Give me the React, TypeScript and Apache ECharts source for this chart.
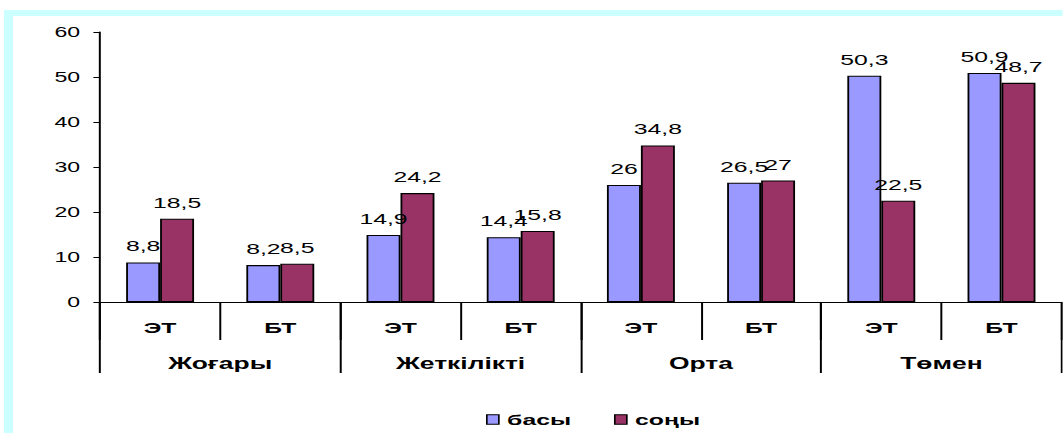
import React, { useEffect, useRef } from "react";
import * as echarts from "echarts";

const categories = ["ЭТ", "БТ", "ЭТ", "БТ", "ЭТ", "БТ", "ЭТ", "БТ"];
const groups = ["Жоғары", "Жеткілікті", "Орта", "Төмен"];
const seriesNames = ["басы", "соңы"];
const basyValues = [8.8, 8.2, 14.9, 14.4, 26, 26.5, 50.3, 50.9];
const sonyValues = [18.5, 8.5, 24.2, 15.8, 34.8, 27, 22.5, 48.7];
const yTicks = { min: 0, max: 60, interval: 10 };

const S = 1.65; // horizontal stretch of the reference picture
const FULL_W = 1063;
const FULL_H = 433;
const W = FULL_W / S;
const FONT = "'Liberation Sans', Arial, sans-serif";

export default function App() {
  const ref = useRef<HTMLDivElement>(null);
  useEffect(() => {
    if (!ref.current) return;
    const chart = echarts.init(ref.current, null, { renderer: "svg" });
    const fmt = (p: any) => String(p.value).replace(".", ",");
    const labelStyle = {
      show: true,
      position: "top",
      distance: 9,
      fontSize: 15,
      color: "#000",
      fontFamily: FONT,
      formatter: fmt,
    };
    chart.setOption({
      animation: false,
      backgroundColor: "#fff",
      textStyle: { fontFamily: FONT },
      graphic: [
        { type: "rect", shape: { x: 4 / S, y: 10, width: W, height: 6 }, style: { fill: "#CCFFFF" } },
        { type: "rect", shape: { x: 4 / S, y: 10, width: 9 / S, height: FULL_H }, style: { fill: "#CCFFFF" } },
      ],
      grid: { left: 100 / S, right: W - 1062 / S, top: 32, bottom: FULL_H - 302, containLabel: false },
      legend: {
        data: seriesNames,
        left: 486 / S,
        top: 412,
        padding: 0,
        itemWidth: 7.3,
        itemHeight: 9.5,
        itemGap: 26,
        icon: "rect",
        itemStyle: { borderColor: "#000", borderWidth: 1 },
        textStyle: { fontSize: 15, fontWeight: "bold", color: "#000", fontFamily: FONT },
      },
      xAxis: [
        {
          type: "category",
          data: categories,
          position: "bottom",
          axisLine: { show: true, lineStyle: { color: "#000", width: 1.2 } },
          axisTick: { show: true, interval: 0, length: 38, lineStyle: { color: "#000", width: 1.2 } },
          axisLabel: { interval: 0, margin: 18, fontSize: 15, fontWeight: "bold", color: "#000", fontFamily: FONT },
          splitLine: { show: false },
        },
        {
          type: "category",
          data: groups,
          position: "bottom",
          axisLine: { show: false },
          axisTick: { show: true, interval: 0, length: 71, lineStyle: { color: "#000", width: 1.2 } },
          axisLabel: { interval: 0, margin: 53, fontSize: 16, fontWeight: "bold", color: "#000", fontFamily: FONT },
          splitLine: { show: false },
        },
      ],
      yAxis: {
        type: "value",
        min: yTicks.min,
        max: yTicks.max,
        interval: yTicks.interval,
        axisLine: { show: true, lineStyle: { color: "#000", width: 1.2 } },
        axisTick: { show: true, length: 4, lineStyle: { color: "#000", width: 1 } },
        axisLabel: { margin: 12, fontSize: 14, color: "#000", fontFamily: FONT },
        splitLine: { show: false },
      },
      series: [
        {
          name: seriesNames[0],
          type: "bar",
          xAxisIndex: 0,
          data: basyValues,
          barGap: "0%",
          barCategoryGap: "43.5%",
          itemStyle: { color: "#9999FF", borderColor: "#000", borderWidth: 1.1 },
          label: labelStyle,
        },
        {
          name: seriesNames[1],
          type: "bar",
          xAxisIndex: 0,
          data: sonyValues,
          barGap: "0%",
          barCategoryGap: "43.5%",
          itemStyle: { color: "#993366", borderColor: "#000", borderWidth: 1.1 },
          label: labelStyle,
        },
      ],
    });
    return () => chart.dispose();
  }, []);
  return (
    <div style={{ position: "fixed", left: 0, top: 0, width: FULL_W, height: FULL_H, overflow: "hidden", background: "#fff" }}>
      <div
        ref={ref}
        style={{ width: W, height: FULL_H, transform: `scaleX(${S})`, transformOrigin: "0 0" }}
      />
    </div>
  );
}
